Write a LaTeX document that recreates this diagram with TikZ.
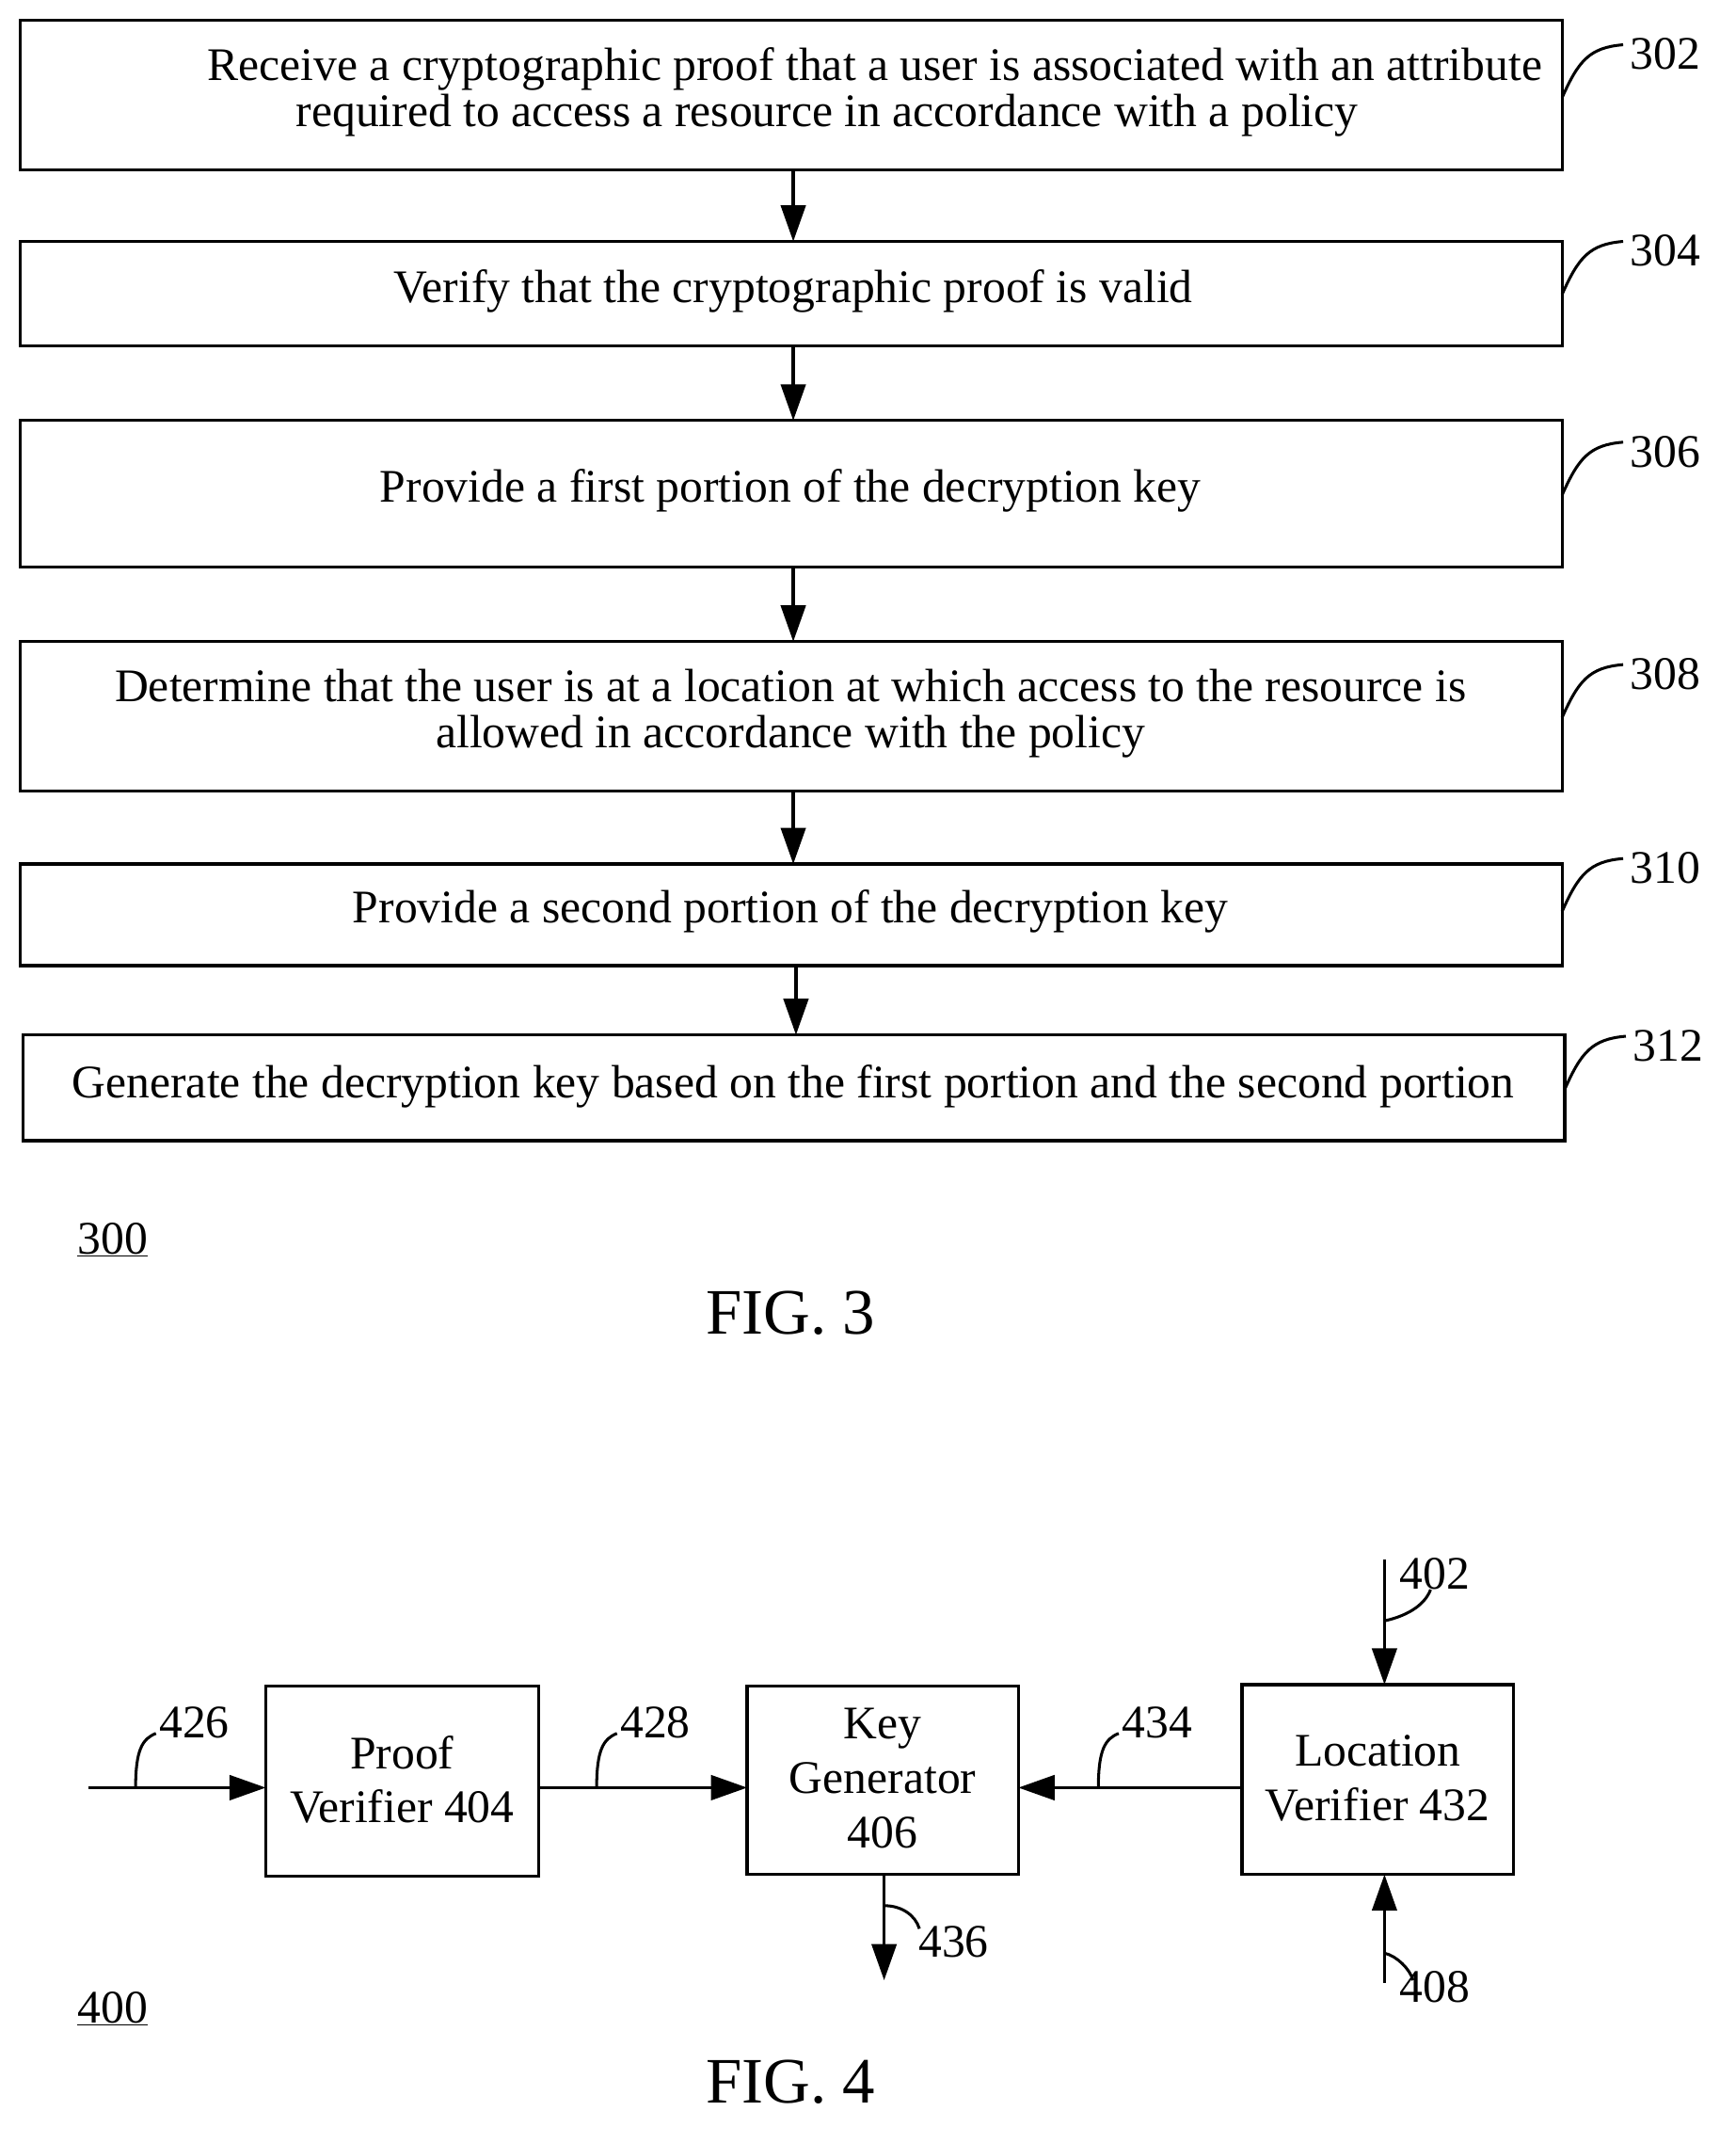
\documentclass[tikz,border=0pt]{standalone}
\usepackage{fontspec}
\setmainfont{Liberation Serif}
\usetikzlibrary{arrows.meta}
\begin{document}
\begin{tikzpicture}[x=0.05cm,y=-0.05cm,
 box/.style={draw,line width=3.2pt,inner sep=0pt},
 txt/.style={font=\fontsize{49}{49}\selectfont,align=center},
 arr/.style={line width=3.2pt,-{Triangle[length=38pt,width=26pt]}},
 lead/.style={line width=3pt},
 num/.style={font=\fontsize{49}{58}\selectfont,anchor=west}]
\useasboundingbox (0,0) rectangle (1280,1580);
% FIG 3
\draw[box] (15,15) rectangle (1152,125);
\node[txt] (t1) at (610,68) {\hspace*{100pt}Receive a cryptographic proof that a user is associated with an attribute\\required to access a resource in accordance with a policy};
\draw[box] (15,178) rectangle (1152,255);
\node[txt] (t2) at (585,215) {Verify that the cryptographic proof is valid};
\draw[box] (15,310) rectangle (1152,418);
\node[txt] (t3) at (583,362) {Provide a first portion of the decryption key};
\draw[box] (15,473) rectangle (1152,583);
\node[txt] (t4) at (583,526) {Determine that the user is at a location at which access to the resource is\\allowed in accordance with the policy};
\draw[box] (15,637) rectangle (1152,712);
\node[txt] (t5) at (583,672) {Provide a second portion of the decryption key};
\draw[box] (17,763) rectangle (1154,841);
\node[txt] (t6) at (585,801) {Generate the decryption key based on the first portion and the second portion};
\foreach \a/\b/\x in {125/178/585,255/310/585,418/473/585,583/637/585,712/763/587}
  \draw[arr] (\x,\a) -- (\x,\b);
\foreach \y/\n/\bx in {40/302/1152,185/304/1152,333/306/1152,497/308/1152,640/310/1152,771/312/1154}{
  \draw[lead] (\bx,\y+32) .. controls (\bx+12,\y+5) and (\bx+20,\y-5) .. (\bx+45,\y-7);
  \node[num] at (\bx+48,\y) {\n};}
\node[num,anchor=center] at (83,914) {\underline{300}};
\node[font=\fontsize{68}{70}\selectfont] at (583,968) {FIG. 3};
% FIG 4
\draw[box] (196,1243) rectangle (397,1383);
\node[txt] (pv) at (296.5,1312) {Proof\\[8pt]Verifier 404};
\draw[box] (551,1243) rectangle (751,1382);
\node[txt] (kg) at (651,1311) {Key\\[8pt]Generator\\[8pt]406};
\draw[box] (916,1242) rectangle (1116,1382);
\node[txt] (lv) at (1016,1311) {Location\\[8pt]Verifier 432};
\draw[arr] (65,1318) -- (196,1318);
\draw[arr] (397,1318) -- (551,1318);
\draw[arr] (916,1318) -- (751,1318);
\draw[arr] (1021,1150) -- (1021,1242);
\draw[arr] (1021,1462) -- (1021,1382);
\draw[arr] (652,1382) -- (652,1460);
\foreach \x/\n in {100/426,440/428,810/434}{
  \draw[lead] (\x,1318) .. controls (\x,1290) and (\x+5,1282) .. (\x+15,1278);
  \node[num] at (\x+15,1270) {\n};}
\draw[lead] (1021,1195) .. controls (1035,1192) and (1050,1185) .. (1055,1172);
\node[num] at (1030,1160) {402};
\draw[lead] (1021,1440) .. controls (1030,1442) and (1040,1452) .. (1042,1460);
\node[num] at (1030,1465) {408};
\draw[lead] (652,1405) .. controls (665,1405) and (675,1412) .. (678,1422);
\node[num] at (675,1432) {436};
\node[num,anchor=center] at (83,1481) {\underline{400}};
\node[font=\fontsize{68}{70}\selectfont] at (583,1535) {FIG. 4};
\end{tikzpicture}
\end{document}
